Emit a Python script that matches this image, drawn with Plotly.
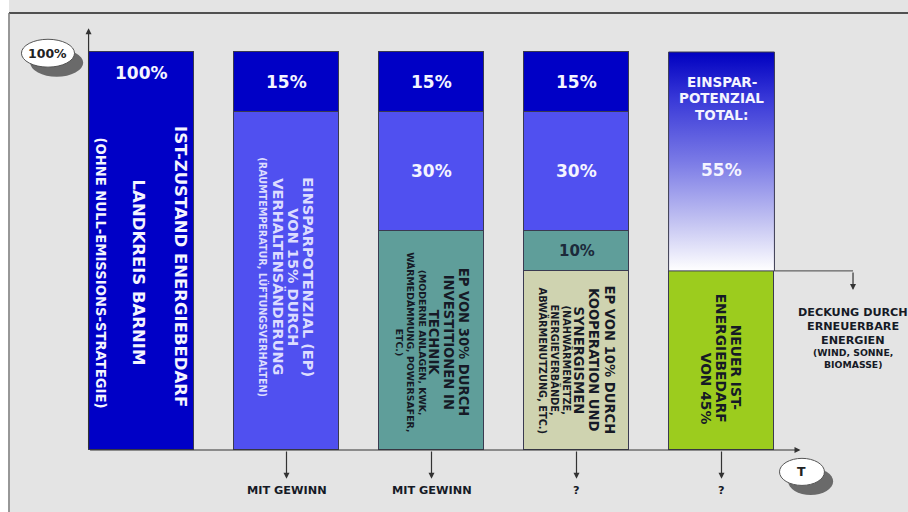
import plotly.graph_objects as go

# ---------------- data ----------------
stages = ["Ist-Zustand", "Verhalten", "Technik", "Kooperation", "Neuer Ist-Bedarf"]
x_pos = [0, 1, 2, 3, 4]
ist_total = [100]                 # bar 1
rest_values = [85, 55, 45]        # bars 2-4, remaining demand
ep_verhalten = [15, 15, 15]       # bars 2-4
ep_technik = [30, 30]             # bars 3-4
ep_kooperation = [10]             # bar 4
neuer_bedarf = [45]               # bar 5
ep_total = [55]                   # bar 5
bottom_labels = ["", "MIT GEWINN", "MIT GEWINN", "?", "?"]

# ---------------- style ----------------
DARK_BLUE = "#0000c6"
LIGHT_BLUE = "#5050f0"
TEAL = "#5f9e9a"
BEIGE = "#cfd3b0"
GREEN = "#9ccc1e"
PANEL = "#e4e4e4"
OUTLINE = "#3a3a50"
FONT = "DejaVu Sans"
W = 0.73

fig = go.Figure()
line = dict(color=OUTLINE, width=1)

fig.add_bar(x=[x_pos[0]], y=ist_total, marker=dict(color=DARK_BLUE, line=line), width=W)
fig.add_bar(x=x_pos[1:4], y=rest_values, marker=dict(color=[LIGHT_BLUE, TEAL, BEIGE], line=line), width=W)
fig.add_bar(x=x_pos[3:4], y=ep_kooperation, marker=dict(color=TEAL, line=line), width=W)
fig.add_bar(x=x_pos[2:4], y=ep_technik, marker=dict(color=LIGHT_BLUE, line=line), width=W)
fig.add_bar(x=x_pos[1:4], y=ep_verhalten, marker=dict(color=DARK_BLUE, line=line), width=W)
fig.add_bar(x=x_pos[4:5], y=neuer_bedarf, marker=dict(color=GREEN, line=line), width=W)

# gradient segment for total savings (bar 5)
x5 = x_pos[4]
y0 = neuer_bedarf[0]
y1 = neuer_bedarf[0] + ep_total[0]
fig.add_scatter(
    x=[x5 - W / 2, x5 + W / 2, x5 + W / 2, x5 - W / 2, x5 - W / 2],
    y=[y0, y0, y1, y1, y0],
    mode="lines", fill="toself",
    line=dict(color=OUTLINE, width=1),
    fillgradient=dict(type="vertical", colorscale=[
        [0, "#ffffff"], [0.22, "#c4c4f2"], [0.5, "#7a7ae6"], [0.78, "#3a3ad8"], [1, "#0000c0"]]),
    hoverinfo="skip", showlegend=False,
)

ann = []


def txt(x, y, text, size, color, angle=0, xshift=0, yshift=0):
    ann.append(dict(x=x, y=y, text=text, showarrow=False, textangle=angle,
                    xshift=xshift, yshift=yshift,
                    font=dict(family=FONT, size=size, color=color, weight="bold")))


def vlines(x, y, items, color):
    # items: (text, size, xshift[, y])
    for it in items:
        txt(x, it[3] if len(it) > 3 else y, it[0], it[1], color, 90, it[2])


WHITE = "#f4f4ff"
DARKT = "#161a26"

# percentage labels
txt(x_pos[0], ist_total[0] - 5.3, f"{ist_total[0]}%", 17, WHITE)
for i, v in zip(x_pos[1:4], ep_verhalten):
    txt(i, 100 - v / 2, f"{v}%", 17, WHITE)
for i, v in zip(x_pos[2:4], ep_technik):
    txt(i, 100 - ep_verhalten[0] - v / 2, f"{v}%", 17, WHITE)
txt(x_pos[3], 100 - ep_verhalten[0] - ep_technik[0] - ep_kooperation[0] / 2,
    f"{ep_kooperation[0]}%", 15, "#1c2a3a")
for t, yy in [("EINSPAR-", 92.5), ("POTENZIAL", 88.4), ("TOTAL:", 84.2)]:
    txt(x5, yy, t, 13.5, WHITE)
txt(x5, 70.4, f"{ep_total[0]}%", 17, WHITE)

# rotated descriptions
vlines(x_pos[0], 45, [("IST-ZUSTAND ENERGIEBEDARF", 16.5, 39, 46.1),
                      ("LANDKREIS BARNIM", 16.5, -3, 44.7),
                      ("(OHNE NULL-EMISSIONS-STRATEGIE)", 13.2, -41, 44.5)], WHITE)

vlines(x_pos[1], 43.5, [("EINSPARPOTENZIAL (EP)", 14.5, 22),
                        ("VON 15% DURCH", 14.5, 7),
                        ("VERHALTENSÄNDERUNG", 14.5, -8),
                        ("(RAUMTEMPERATUR, LÜFTUNGSVERHALTEN)", 9.6, -23)], "#dcdcff")

vlines(x_pos[2], 27.1, [("EP VON 30% DURCH", 13.2, 32),
                        ("INVESTITIONEN IN", 13.2, 17),
                        ("TECHNIK", 13.2, 2),
                        ("(MODERNE ANLAGEN, KWK,", 9.4, -9),
                        ("WÄRMEDÄMMUNG, POWERSAFER,", 9.4, -20.5),
                        ("ETC.)", 9.4, -32)], DARKT)

vlines(x_pos[3], 22.6, [("EP VON 10% DURCH", 13.2, 33),
                        ("KOOPERATION UND", 13.2, 17.5),
                        ("SYNERGISMEN", 13.2, 2),
                        ("(NAHWÄRMENETZE,", 9.8, -9),
                        ("ENERGIEVERBÄNDE,", 9.8, -21),
                        ("ABWÄRMENUTZUNG, ETC.)", 9.8, -33)], DARKT)

vlines(x5, 22, [("NEUER IST-", 13.8, 14.5, 20.9),
                ("ENERGIEBEDARF", 13.8, -0.5, 23.2),
                ("VON 45%", 13.8, -15.5, 15.4)], DARKT)

# right note
xr = 4.907
fig.add_shape(type="line", x0=x5 + W / 2, y0=y0, x1=xr, y1=y0, line=dict(color="#444", width=1))
ann.append(dict(x=xr, y=y0 - 4.8, ax=xr, ay=y0, axref="x", ayref="y", text="", showarrow=True,
                arrowhead=2, arrowsize=1, arrowwidth=1.2, arrowcolor="#333"))
for t, yy, s in [("DECKUNG DURCH", 34.6, 11.2), ("ERNEUERBARE", 31.1, 11.2), ("ENERGIEN", 27.6, 11.2),
                 ("(WIND, SONNE,", 24.4, 9.3), ("BIOMASSE)", 21.4, 9.3)]:
    txt(xr, yy, t, s, DARKT)

# bottom arrows and labels
for i, lab in zip(x_pos, bottom_labels):
    if lab:
        ann.append(dict(x=i, y=-7.2, ax=i, ay=0, axref="x", ayref="y", text="", showarrow=True,
                        arrowhead=2, arrowsize=1, arrowwidth=1.2, arrowcolor="#333"))
        txt(i, -10.3, lab, 11.3, DARKT)

# axes arrows
xl = x_pos[0] - W / 2
ann.append(dict(x=xl, y=106, ax=xl, ay=0, axref="x", ayref="y", text="", showarrow=True,
                arrowhead=2, arrowsize=1, arrowwidth=1.2, arrowcolor="#333"))
ann.append(dict(x=4.545, y=0, ax=xl, ay=0, axref="x", ayref="y", text="", showarrow=True,
                arrowhead=2, arrowsize=1, arrowwidth=1.2, arrowcolor="#333"))

shapes = []
# panel (plot background is the grey panel; white strips outside it)
shapes.append(dict(type="rect", x0=-2, y0=109.8, x1=7, y1=120, fillcolor="#ffffff",
                   line=dict(width=0), layer="above"))
shapes.append(dict(type="rect", x0=-2, y0=-30, x1=-0.914, y1=120, fillcolor="#ffffff",
                   line=dict(width=0), layer="above"))
shapes.append(dict(type="line", x0=-0.914, y0=109.8, x1=7, y1=109.8,
                   line=dict(color="#505050", width=2), layer="above"))
shapes.append(dict(type="line", x0=-0.914, y0=-30, x1=-0.914, y1=109.8,
                   line=dict(color="#7a7a7a", width=1.5), layer="above"))


def ellipse(cx, cy, rx, ry, label):
    shapes.append(dict(type="circle", x0=cx - rx + 0.06, x1=cx + rx + 0.06, y0=cy - ry - 2.4, y1=cy + ry - 2.4,
                       fillcolor="#6a6a6a", line=dict(width=0), layer="above"))
    shapes.append(dict(type="circle", x0=cx - rx, x1=cx + rx, y0=cy - ry, y1=cy + ry,
                       fillcolor="#ffffff", line=dict(color="#555", width=1), layer="above"))
    txt(cx, cy, label, 12.5, "#222")


ellipse(-0.645, 99.7, 0.183, 3.5, "100%")
ellipse(4.555, -5.5, 0.155, 3.4, "T")

fig.update_layout(
    width=908, height=512, margin=dict(l=0, r=0, t=0, b=0),
    paper_bgcolor="#ffffff", plot_bgcolor=PANEL,
    barmode="stack", showlegend=False, bargap=0,
    xaxis=dict(range=[-0.9759, 5.2862], visible=False, fixedrange=True),
    yaxis=dict(range=[-15.58, 113.07], visible=False, fixedrange=True),
    annotations=ann, shapes=shapes, hovermode=False,
)

fig.write_html("out.html")
